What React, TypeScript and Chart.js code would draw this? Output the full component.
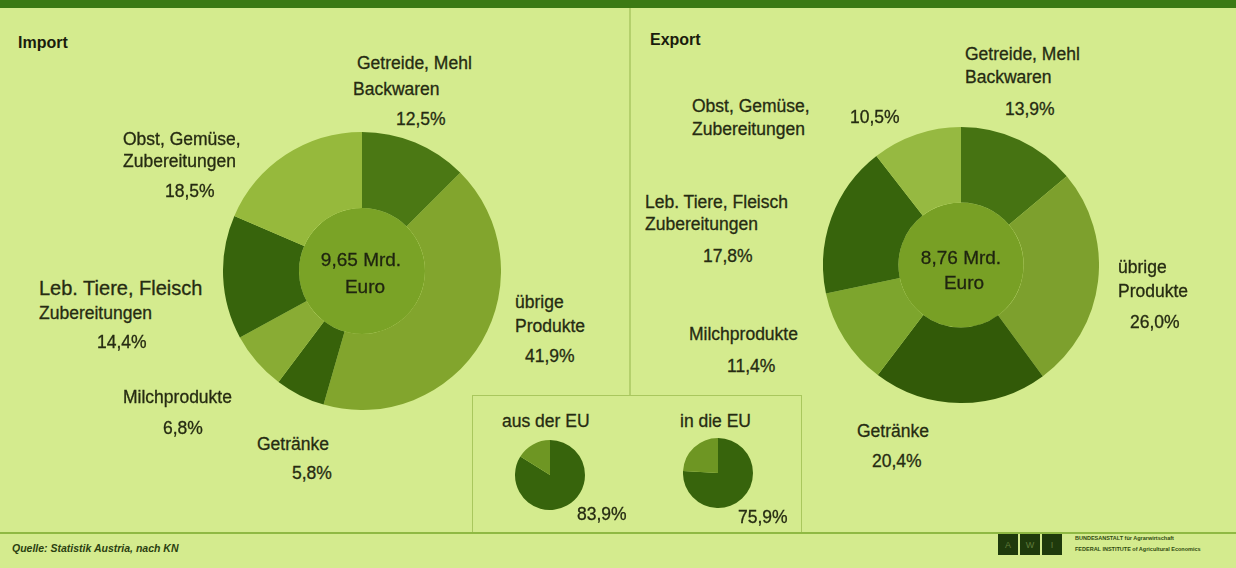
import React, { useEffect, useRef } from "react";
import { Chart, registerables } from "chart.js";

Chart.register(...registerables);

// ---------- data ----------
const categories = [
  "Getreide, Mehl\nBackwaren",
  "übrige\nProdukte",
  "Getränke",
  "Milchprodukte",
  "Leb. Tiere, Fleisch\nZubereitungen",
  "Obst, Gemüse,\nZubereitungen",
];
const importShares = [12.5, 41.9, 5.8, 6.8, 14.4, 18.5];
const exportShares = [13.9, 26.0, 20.4, 11.4, 17.8, 10.5];
const totalLabels = ["9,65 Mrd.\nEuro", "8,76 Mrd.\nEuro"];
const totalValues = [9.65, 8.76];
const euLabels = ["aus der EU", "in die EU"];
const euShares = [83.9, 75.9];
const nonEuShares = [16.1, 24.1];

// ---------- styles ----------
const FONT = '"Liberation Sans", Arial, sans-serif';
const BG = "#d4eb8e";
const TEXT = "#262b12";
const importColors = ["#4b7814", "#82a52d", "#37620a", "#89ac34", "#37640c", "#96b93c"];
const exportColors = ["#467312", "#7da02d", "#325a08", "#7da52d", "#37640c", "#96b941"];
const centerColors = ["#7aa326", "#78a025"];
const euColors = ["#37640c", "#6e9623"];

type Pt = [number, number];
const importLayout: { lines: Pt[]; pct: Pt }[] = [
  { lines: [[357, 64], [353, 90]], pct: [396, 120] },
  { lines: [[515, 303], [515, 327]], pct: [525, 357] },
  { lines: [[257, 445]], pct: [292, 474] },
  { lines: [[123, 398]], pct: [163, 429] },
  { lines: [[39, 288], [39, 314]], pct: [97, 343] },
  { lines: [[123, 140], [123, 162]], pct: [165, 192] },
];
const exportLayout: { lines: Pt[]; pct: Pt }[] = [
  { lines: [[965, 55], [965, 78]], pct: [1005, 110] },
  { lines: [[1118, 268], [1118, 292]], pct: [1130, 323] },
  { lines: [[857, 432]], pct: [872, 462] },
  { lines: [[689, 335]], pct: [727, 367] },
  { lines: [[645, 203], [645, 225]], pct: [703, 257] },
  { lines: [[692, 107], [692, 130]], pct: [850, 118] },
];

const fmt = (v: number) => v.toFixed(1).replace(".", ",") + "%";

function Doughnut({ values, colors, total, centerColor, left, top, size }: any) {
  const ref = useRef<HTMLCanvasElement>(null);
  useEffect(() => {
    const chart = new Chart(ref.current!, {
      type: "doughnut",
      data: {
        labels: categories,
        datasets: [
          { data: values, backgroundColor: colors, borderWidth: 0, weight: 76 } as any,
          { data: [total], backgroundColor: [centerColor], borderWidth: 0, weight: 63 } as any,
        ],
      },
      options: {
        responsive: false,
        animation: false,
        cutout: 0,
        events: [],
        layout: { padding: 0 },
        plugins: { legend: { display: false }, tooltip: { enabled: false } },
      },
    });
    return () => chart.destroy();
  }, []);
  return (
    <canvas
      ref={ref}
      width={size}
      height={size}
      style={{ position: "absolute", left, top, width: size, height: size }}
    />
  );
}

function SmallPie({ value, rest, left, top, size }: any) {
  const ref = useRef<HTMLCanvasElement>(null);
  useEffect(() => {
    const chart = new Chart(ref.current!, {
      type: "pie",
      data: {
        labels: ["EU", "Drittstaaten"],
        datasets: [{ data: [value, rest], backgroundColor: euColors, borderWidth: 0 }],
      },
      options: {
        responsive: false,
        animation: false,
        events: [],
        layout: { padding: 0 },
        plugins: { legend: { display: false }, tooltip: { enabled: false } },
      },
    });
    return () => chart.destroy();
  }, []);
  return (
    <canvas
      ref={ref}
      width={size}
      height={size}
      style={{ position: "absolute", left, top, width: size, height: size }}
    />
  );
}

function Txt({ x, y, children, size = 17.5, weight = "normal", center = false, italic = false, color = TEXT, stroke = 0.3 }: any) {
  return (
    <div
      style={{
        position: "absolute",
        left: x,
        top: y,
        transform: center ? "translate(-50%,-50%)" : "translateY(-50%)",
        fontFamily: FONT,
        fontSize: size,
        fontWeight: weight,
        fontStyle: italic ? "italic" : "normal",
        color,
        WebkitTextStroke: stroke ? `${stroke}px ${color}` : undefined,
        whiteSpace: "nowrap",
        lineHeight: 1,
      }}
    >
      {children}
    </div>
  );
}

function Labels({ values, layout, bigFirst }: any) {
  const out: any[] = [];
  categories.forEach((cat, i) => {
    const lines = cat.split("\n");
    lines.forEach((ln, j) => {
      const [x, y] = layout[i].lines[j];
      const big = bigFirst && i === 4 && j === 0;
      out.push(
        <Txt key={`l${i}_${j}`} x={x} y={y} size={big ? 20 : 17.5}>
          {ln}
        </Txt>
      );
    });
    const [px, py] = layout[i].pct;
    out.push(
      <Txt key={`p${i}`} x={px} y={py}>
        {fmt(values[i])}
      </Txt>
    );
  });
  return <>{out}</>;
}

export default function App() {
  useEffect(() => {
    document.body.style.margin = "0";
  }, []);
  const [imp1, imp2] = totalLabels[0].split("\n");
  const [exp1, exp2] = totalLabels[1].split("\n");
  return (
    <div
      style={{
        position: "relative",
        width: 1236,
        height: 568,
        background: BG,
        overflow: "hidden",
      }}
    >
      {/* top bar */}
      <div style={{ position: "absolute", left: 0, top: 0, width: 1236, height: 8, background: "#3b7a14" }} />
      {/* vertical divider */}
      <div style={{ position: "absolute", left: 629, top: 8, width: 1.5, height: 387, background: "#b4d06c" }} />
      {/* EU box */}
      <div
        style={{
          position: "absolute",
          left: 472,
          top: 395,
          width: 330,
          height: 138,
          border: "1.5px solid #a9c75e",
          borderBottom: "none",
          boxSizing: "border-box",
        }}
      />
      {/* footer line */}
      <div style={{ position: "absolute", left: 0, top: 532, width: 1236, height: 2, background: "#8fb943" }} />

      <Txt x={18} y={43} size={16} weight="bold" color="#1a1c0c" stroke={0}>Import</Txt>
      <Txt x={650} y={40} size={16} weight="bold" color="#1a1c0c" stroke={0}>Export</Txt>

      <Doughnut values={importShares} colors={importColors} total={totalValues[0]} centerColor={centerColors[0]} left={223} top={132} size={278} />
      <Doughnut values={exportShares} colors={exportColors} total={totalValues[1]} centerColor={centerColors[1]} left={823} top={127} size={276} />

      <Txt x={361} y={259} size={19} center color="#1f2410">{imp1}</Txt>
      <Txt x={365} y={286} size={19} center color="#1f2410">{imp2}</Txt>
      <Txt x={961} y={257} size={19} center color="#1f2410">{exp1}</Txt>
      <Txt x={964} y={282} size={19} center color="#1f2410">{exp2}</Txt>

      <Labels values={importShares} layout={importLayout} bigFirst />
      <Labels values={exportShares} layout={exportLayout} />

      <SmallPie value={euShares[0]} rest={nonEuShares[0]} left={515} top={440} size={70} />
      <SmallPie value={euShares[1]} rest={nonEuShares[1]} left={683} top={438} size={70} />
      <Txt x={502} y={422}>{euLabels[0]}</Txt>
      <Txt x={680} y={422}>{euLabels[1]}</Txt>
      <Txt x={577} y={515}>{fmt(euShares[0])}</Txt>
      <Txt x={738} y={518}>{fmt(euShares[1])}</Txt>

      {/* footer */}
      <Txt x={12} y={548} size={10.5} weight="bold" italic color="#2a4010" stroke={0}>Quelle: Statistik Austria, nach KN</Txt>
      <div style={{ position: "absolute", left: 998, top: 534, display: "flex", gap: 2 }}>
        {["A", "W", "I"].map((c) => (
          <div
            key={c}
            style={{
              width: 20,
              height: 21,
              background: "#1f3a0c",
              color: "#5f7a3a",
              fontFamily: FONT,
              fontSize: 9,
              display: "flex",
              alignItems: "center",
              justifyContent: "center",
            }}
          >
            {c}
          </div>
        ))}
      </div>
      <Txt x={1075} y={539} size={5.5} weight="bold" color="#2f4a10" stroke={0}>BUNDESANSTALT für Agrarwirtschaft</Txt>
      <Txt x={1075} y={550} size={5.5} weight="bold" color="#2f4a10" stroke={0}>FEDERAL INSTITUTE of Agricultural Economics</Txt>
    </div>
  );
}
